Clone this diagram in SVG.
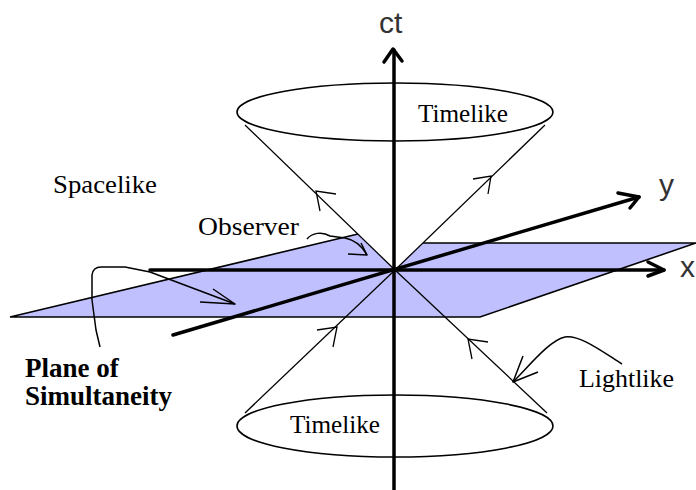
<svg xmlns="http://www.w3.org/2000/svg" width="696" height="490" viewBox="0 0 696 490">
<style>
.axis{stroke:#000;stroke-width:3.5;fill:none;stroke-linecap:round;stroke-linejoin:round}
.cone{stroke:#000;stroke-width:1.3;fill:none}
.ell{stroke:#000;stroke-width:1.6;fill:none}
.edge{stroke:#000;stroke-width:1.6;fill:none}
.call{stroke:#000;stroke-width:1.5;fill:none;stroke-linejoin:round}
.lbl{font-family:"Liberation Serif",serif;font-size:25.5px;fill:#000}
.bold{font-family:"Liberation Serif",serif;font-size:27px;font-weight:bold;fill:#000}
.ax{font-family:"Liberation Sans",sans-serif;font-size:30px;fill:#333}
</style>
<rect width="696" height="490" fill="#fff"/>
<g id="plane">
<polygon points="10,317 358,234 422,243 696,243 480,317" fill="#c0c0ff" stroke="none"/>
<polyline class="edge" points="422,243 696,243 480,317 10,317 358,234"/>
</g>
<g id="upper-cone-fill">
<path d="M395,270 L245,125 A150,28 0 0 1 545,125 Z" fill="#fff"/>
</g>
<g id="connectors">
<g id="lower-cone">
<line class="cone" x1="395" y1="270" x2="245" y2="413"/>
<line class="cone" x1="395" y1="270" x2="547" y2="413"/>
<ellipse class="ell" cx="395" cy="426" rx="158" ry="31"/>
<polyline class="cone" points="317,330 337,327 333,347"/>
<polyline class="cone" points="488,342 468,339 472,359"/>
</g>
<g id="upper-cone">
<line class="cone" x1="395" y1="270" x2="245" y2="125"/>
<line class="cone" x1="395" y1="270" x2="545" y2="125"/>
<ellipse class="ell" cx="395" cy="112" rx="158" ry="29"/>
<polyline class="cone" points="336,194 316,191 320,211"/>
<polyline class="cone" points="473,179 491,176 488,194"/>
</g>
<g id="axes">
<line class="axis" x1="394" y1="50" x2="394" y2="492"/>
<polyline class="axis" points="384,62 393,49 402,61"/>
<line class="axis" x1="150" y1="270" x2="664" y2="270"/>
<polyline class="axis" points="648,262 664,270 648,276"/>
<line class="axis" x1="173" y1="335" x2="639" y2="197"/>
<polyline class="axis" points="618,193 639,197 630,208"/>
</g>
<g id="callouts">
<path class="call" d="M307,239 C312,233 322,231 330,236 L345,238 C356,240 362,246 367,255"/>
<polyline class="call" points="348,254 367,255 361,243"/>
<path class="call" d="M100,347 L96,330 L92,300 L92,275 Q93,267 101,267 L125,267 L150,272 L235,304"/>
<polyline class="call" points="213,289 235,304 200,302"/>
<path class="call" d="M622,364 C600,350 580,335 565,337 C550,340 530,365 513,382"/>
<polyline class="call" points="523,356 513,382 538,372"/>
</g>
</g>
<g id="labels">
<text class="ax" x="379" y="33">ct</text>
<text class="ax" x="659" y="195">y</text>
<text class="ax" x="680" y="277" font-size="27">x</text>
<text id="timelike-up" class="lbl" x="418" y="122" textLength="90" lengthAdjust="spacingAndGlyphs">Timelike</text>
<text id="timelike-down" class="lbl" x="290" y="433" textLength="90" lengthAdjust="spacingAndGlyphs">Timelike</text>
<text id="spacelike" class="lbl" x="53" y="193" textLength="104" lengthAdjust="spacingAndGlyphs">Spacelike</text>
<text id="observer" class="lbl" x="198" y="235" textLength="101" lengthAdjust="spacingAndGlyphs">Observer</text>
<text id="lightlike" class="lbl" x="579" y="387" textLength="95" lengthAdjust="spacingAndGlyphs">Lightlike</text>
<text id="plane-label" class="bold"><tspan x="25" y="377">Plane of</tspan><tspan x="25" y="405">Simultaneity</tspan></text>
</g>
</svg>
